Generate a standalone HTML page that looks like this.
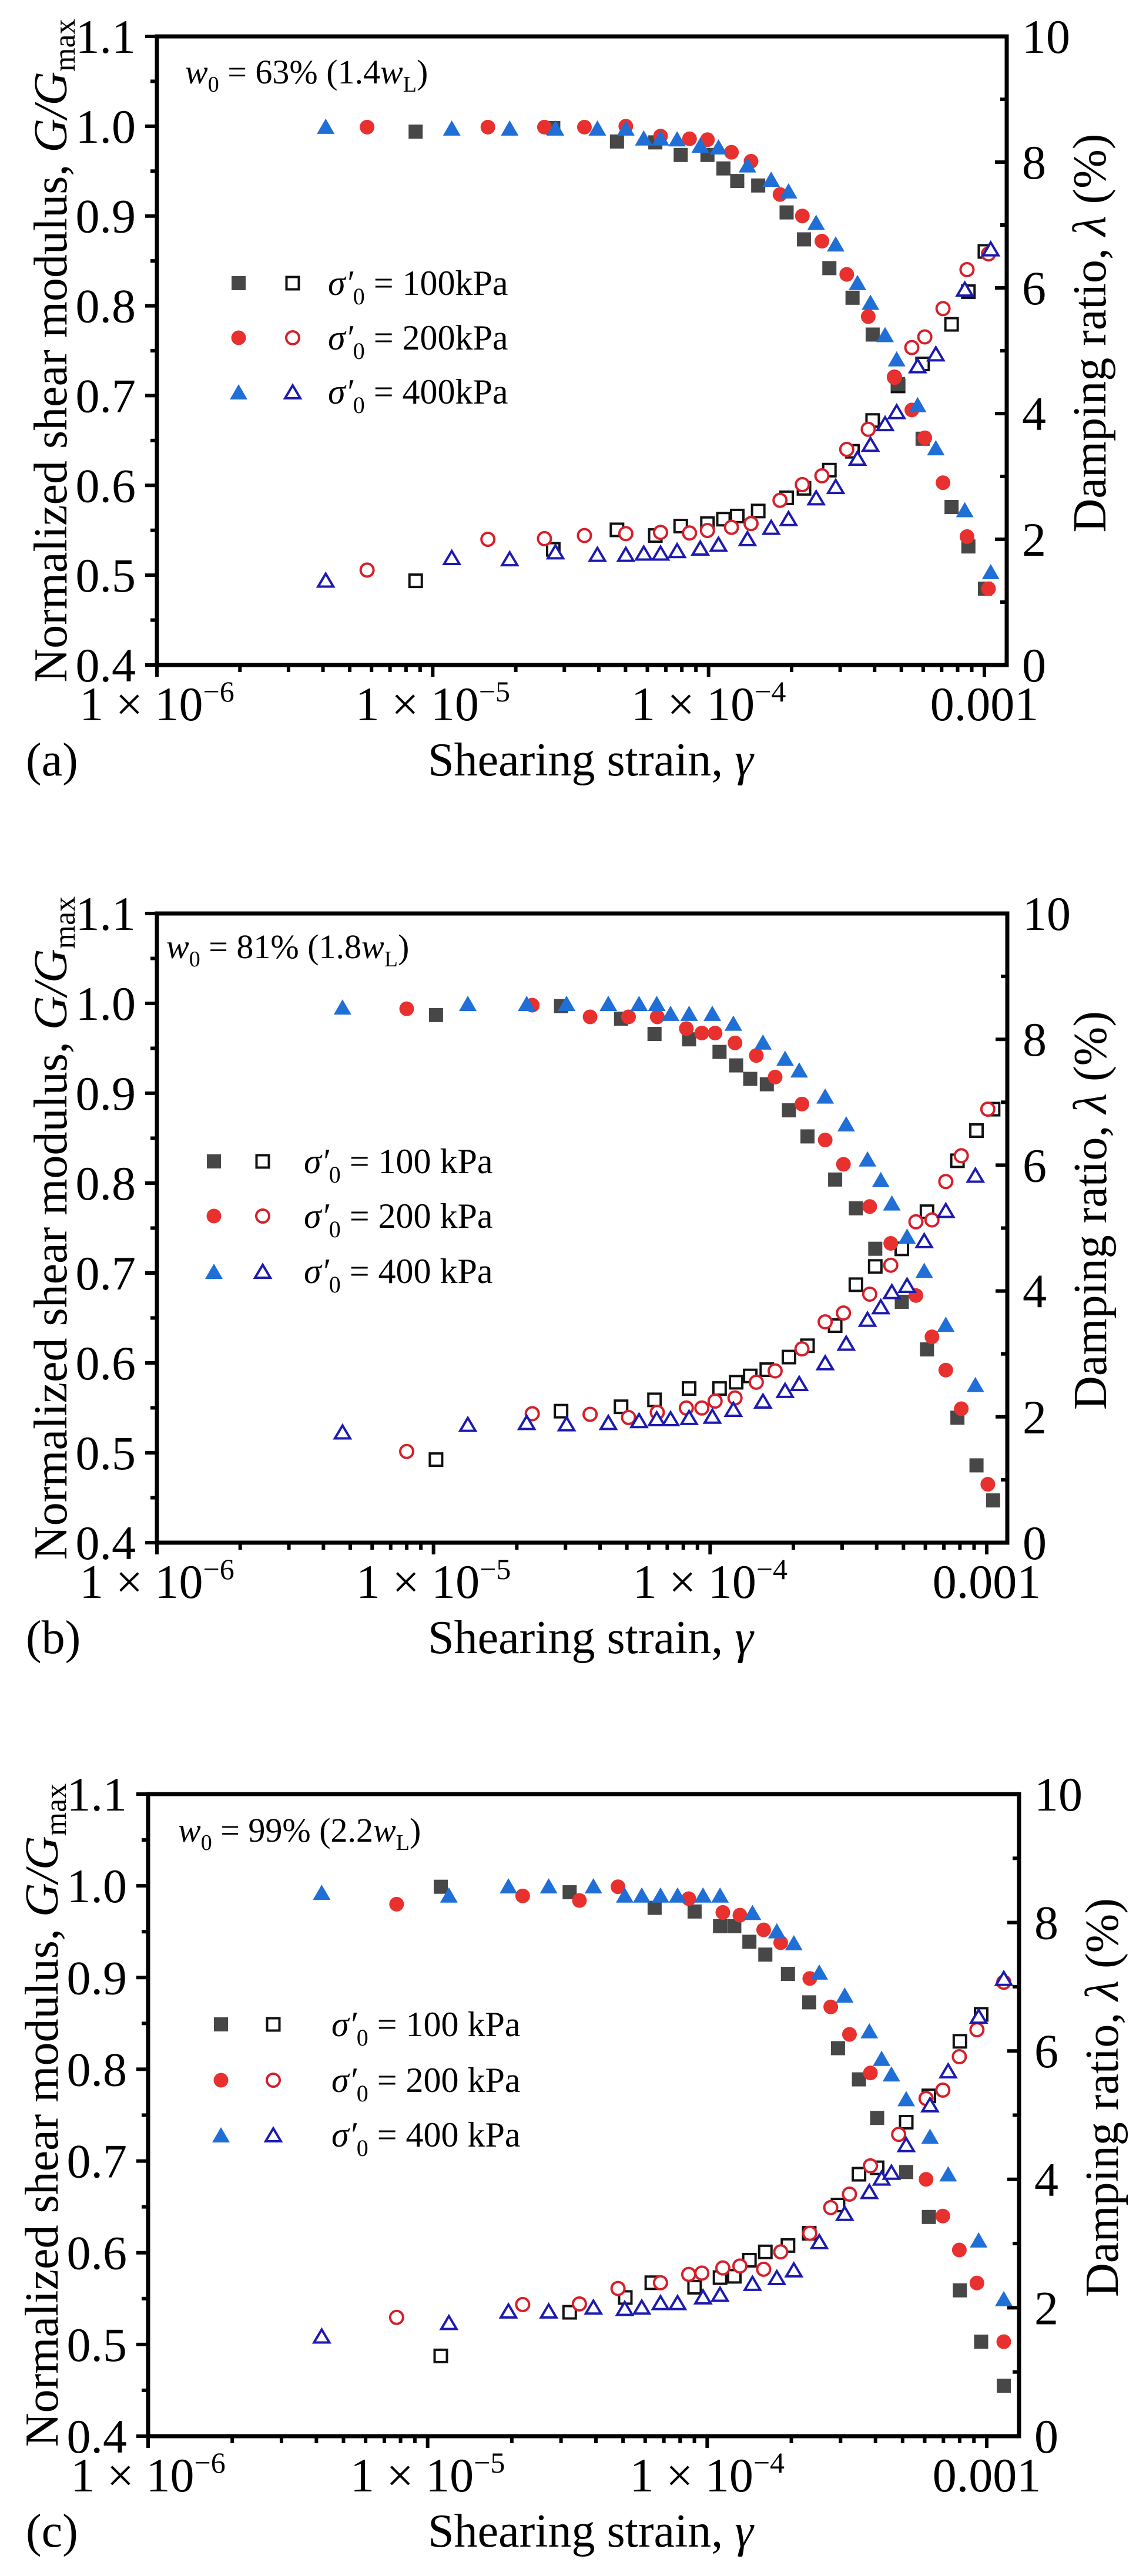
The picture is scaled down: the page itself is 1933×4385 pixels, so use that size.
<!DOCTYPE html>
<html><head><meta charset="utf-8"><title>G/Gmax and damping ratio vs shearing strain</title>
<style>
html,body{margin:0;padding:0;background:#fff;}
svg{display:block;font-family:"Liberation Serif","DejaVu Serif",serif;}
</style></head>
<body>
<svg id="fig" width="1933" height="4385" viewBox="0 0 1933 4385" xmlns="http://www.w3.org/2000/svg"></svg>
<script>
// ---- data (log10 of shearing strain, G/Gmax, damping ratio %) ----
// Panel (a)
const a100_x = [-5.062,-4.563,-4.332,-4.193,-4.101,-4.004,-3.946,-3.896,-3.820,-3.717,-3.654,-3.562,-3.478,-3.405,-3.313,-3.224,-3.119,-3.058,-2.998];
const a100_G = [0.994,0.998,0.983,0.982,0.968,0.968,0.953,0.939,0.934,0.904,0.874,0.842,0.809,0.768,0.713,0.652,0.576,0.532,0.485];
const a100_D = [1.34,1.84,2.15,2.06,2.21,2.25,2.32,2.37,2.45,2.66,2.81,3.10,3.40,3.89,4.44,4.79,5.42,5.94,6.58];
const a200_x = [-5.238,-4.800,-4.595,-4.450,-4.300,-4.174,-4.069,-4.004,-3.917,-3.846,-3.741,-3.660,-3.589,-3.499,-3.421,-3.326,-3.263,-3.216,-3.150,-3.063,-2.985];
const a200_G = [0.999,0.999,0.999,0.999,1.0,0.989,0.986,0.985,0.971,0.961,0.924,0.900,0.872,0.835,0.788,0.720,0.684,0.653,0.603,0.543,0.485];
const a200_D = [1.51,2.00,2.01,2.06,2.09,2.11,2.10,2.14,2.19,2.25,2.62,2.87,3.01,3.43,3.75,4.58,5.05,5.22,5.67,6.29,6.54];
const a400_x = [-5.388,-4.931,-4.721,-4.555,-4.403,-4.300,-4.235,-4.174,-4.114,-4.030,-3.964,-3.859,-3.773,-3.710,-3.610,-3.539,-3.460,-3.413,-3.360,-3.318,-3.242,-3.176,-3.071,-2.977];
const a400_G = [1.0,0.998,0.998,0.998,0.998,0.998,0.987,0.987,0.986,0.979,0.977,0.957,0.941,0.928,0.893,0.869,0.826,0.804,0.768,0.741,0.690,0.642,0.573,0.504];
const a400_D = [1.35,1.71,1.69,1.80,1.76,1.76,1.78,1.78,1.82,1.86,1.92,2.01,2.19,2.33,2.66,2.84,3.29,3.51,3.84,4.03,4.76,4.95,5.98,6.62];
// Panel (b)
const b100_x = [-4.991,-4.539,-4.322,-4.201,-4.076,-3.966,-3.906,-3.855,-3.795,-3.715,-3.648,-3.548,-3.473,-3.403,-3.307,-3.216,-3.106,-3.037,-2.977];
const b100_G = [0.987,0.997,0.983,0.966,0.960,0.946,0.931,0.916,0.910,0.881,0.852,0.804,0.772,0.727,0.668,0.615,0.539,0.486,0.447];
const b100_D = [1.32,2.09,2.16,2.27,2.45,2.45,2.55,2.65,2.75,2.95,3.13,3.45,4.10,4.39,4.67,5.26,6.07,6.55,6.89];
const b200_x = [-5.097,-4.643,-4.434,-4.295,-4.191,-4.086,-4.030,-3.982,-3.910,-3.833,-3.765,-3.668,-3.584,-3.518,-3.423,-3.347,-3.256,-3.198,-3.148,-3.092,-2.996];
const b200_G = [0.994,0.998,0.985,0.985,0.985,0.972,0.967,0.967,0.956,0.942,0.918,0.888,0.848,0.821,0.774,0.733,0.675,0.629,0.592,0.549,0.465];
const b200_D = [1.45,2.05,2.04,1.99,2.07,2.14,2.14,2.25,2.30,2.55,2.73,3.08,3.51,3.65,3.95,4.41,5.10,5.13,5.74,6.15,6.89];
const b400_x = [-5.329,-4.876,-4.663,-4.519,-4.368,-4.257,-4.193,-4.143,-4.076,-3.992,-3.916,-3.809,-3.729,-3.678,-3.584,-3.508,-3.431,-3.383,-3.343,-3.288,-3.226,-3.148,-3.041];
const b400_G = [0.996,1.0,1.0,1.0,1.0,1.0,1.0,0.989,0.989,0.989,0.978,0.957,0.939,0.926,0.897,0.866,0.827,0.804,0.778,0.741,0.703,0.643,0.576];
const b400_D = [1.76,1.88,1.91,1.89,1.91,1.94,1.97,1.97,1.99,2.01,2.12,2.25,2.42,2.53,2.86,3.17,3.55,3.75,3.99,4.09,4.80,5.28,5.84];
// Panel (c)
const c100_xG = [-4.953,-4.492,-4.188,-4.045,-3.954,-3.903,-3.849,-3.792,-3.711,-3.635,-3.532,-3.457,-3.392,-3.288,-3.207,-3.096,-3.020,-2.939];
const c100_G = [0.999,0.993,0.976,0.972,0.956,0.956,0.939,0.925,0.904,0.873,0.823,0.789,0.747,0.688,0.639,0.559,0.503,0.455];
const c100_xD = [-4.953,-4.492,-4.293,-4.198,-4.045,-3.954,-3.903,-3.849,-3.792,-3.711,-3.635,-3.532,-3.457,-3.392,-3.288,-3.207,-3.096,-3.020];
const c100_D = [1.25,1.93,2.16,2.39,2.32,2.47,2.49,2.74,2.87,2.97,3.16,3.60,4.08,4.18,4.89,5.30,6.15,6.57];
const c200_xG = [-5.111,-4.660,-4.457,-4.319,-4.066,-3.944,-3.883,-3.798,-3.737,-3.633,-3.558,-3.491,-3.416,-3.217,-3.157,-3.098,-3.035,-2.939];
const c200_G = [0.980,0.989,0.984,0.999,0.986,0.971,0.968,0.952,0.938,0.899,0.868,0.838,0.796,0.680,0.640,0.603,0.567,0.503];
const c200_xD = [-5.111,-4.660,-4.457,-4.319,-4.167,-4.066,-4.019,-3.944,-3.883,-3.798,-3.737,-3.633,-3.558,-3.491,-3.416,-3.315,-3.217,-3.157,-3.098,-3.035,-2.939];
const c200_D = [1.85,2.05,2.06,2.30,2.39,2.52,2.54,2.62,2.65,2.60,2.87,3.16,3.56,3.77,4.21,4.70,5.26,5.39,5.91,6.33,7.07];
const c400_x = [-5.379,-4.924,-4.711,-4.567,-4.407,-4.295,-4.234,-4.167,-4.106,-4.015,-3.954,-3.838,-3.751,-3.690,-3.599,-3.508,-3.420,-3.376,-3.341,-3.288,-3.203,-3.138,-3.029,-2.939];
const c400_G = [0.993,0.990,1.0,1.0,1.0,0.990,0.990,0.990,0.990,0.990,0.990,0.971,0.951,0.938,0.906,0.881,0.842,0.812,0.795,0.768,0.727,0.686,0.614,0.550];
const c400_D = [1.56,1.77,1.95,1.95,2.01,1.99,2.01,2.08,2.08,2.17,2.21,2.38,2.47,2.59,3.03,3.47,3.81,4.02,4.11,4.54,5.16,5.69,6.54,7.13];

// tick labels
const leftTicks = [0.4,0.5,0.6,0.7,0.8,0.9,1.0,1.1];
const leftTickLabels = ["0.4","0.5","0.6","0.7","0.8","0.9","1.0","1.1"];
const rightTicks = [0,2,4,6,8,10];
const xDecades = [-6,-5,-4,-3];
const xDecadeLabels = [["1 × 10","−6"],["1 × 10","−5"],["1 × 10","−4"],["0.001",""]];
const legendLabelsA = ["100kPa","200kPa","400kPa"];
const legendLabelsBC = ["100 kPa","200 kPa","400 kPa"];

// ---- drawing ----
const NS = "http://www.w3.org/2000/svg";
const svg = document.getElementById("fig");
function mk(tag, attrs, parent){
  const e = document.createElementNS(NS, tag);
  for (const k in attrs) e.setAttribute(k, attrs[k]);
  (parent||svg).appendChild(e);
  return e;
}
const COL = {sqF:"#474747", sqO:"#111111", ciF:"#e8312f", ciO:"#d61f2a", trF:"#1f6fd6", trO:"#1c1ab0"};

function marker(g, type, filled, cx, cy, name){
  let e;
  if (type === "sq"){
    const s = filled ? 24 : 21;
    e = mk("rect", {x:cx-s/2, y:cy-s/2, width:s, height:s, fill: filled?COL.sqF:"#fff", stroke: filled?"none":COL.sqO, "stroke-width":4}, g);
  } else if (type === "ci"){
    e = mk("circle", {cx:cx, cy:cy, r: filled?12.5:11, fill: filled?COL.ciF:"#fff", stroke: filled?"none":COL.ciO, "stroke-width":4}, g);
  } else {
    const w = filled?30:26, h = filled?26:22;
    e = mk("polygon", {points:`${cx-w/2},${cy+h/2} ${cx+w/2},${cy+h/2} ${cx},${cy-h/2}`, fill: filled?COL.trF:"#fff", stroke: filled?"none":COL.trO, "stroke-width":4, "stroke-linejoin":"miter"}, g);
  }
  
  
  return e;
}

function panel(cfg){
  const {id,L,R,T,B,x6,x3,label,ann,annX,annY,leg,legLabels,series} = cfg;
  const g = mk("g", {});
  
  
  const dec = (x3 - x6) / 3;
  const sx = v => x6 + (v + 6) * dec;
  const syG = v => B - (v - 0.4) / 0.7 * (B - T);
  const syD = v => B - v / 10 * (B - T);

  // ticks
  const tk = mk("g", {stroke:"#000", "stroke-width":6}, g);
  
  
  for (let i = 0; i < leftTicks.length; i++){
    const y = syG(leftTicks[i]);
    mk("line", {x1:L-20, x2:L, y1:y, y2:y}, tk);
    if (i < leftTicks.length-1){ const ym = syG(leftTicks[i]+0.05); mk("line", {x1:L-11, x2:L, y1:ym, y2:ym}, tk); }
    const t = mk("text", {x:L-36, y:y+28, "font-size":82, "text-anchor":"end", fill:"#000"}, g);
    t.textContent = leftTickLabels[i];
    
    
  }
  for (let i = 0; i < rightTicks.length; i++){
    const y = syD(rightTicks[i]);
    mk("line", {x1:R-20, x2:R, y1:y, y2:y}, tk);
    if (i < rightTicks.length-1){ const ym = syD(rightTicks[i]+1); mk("line", {x1:R-11, x2:R, y1:ym, y2:ym}, tk); }
    const t = mk("text", {x:R+26, y:y+28, "font-size":82, fill:"#000"}, g);
    t.textContent = String(rightTicks[i]);
    
    
  }
  for (let d = 0; d < xDecades.length; d++){
    const x = sx(xDecades[d]);
    mk("line", {x1:x, x2:x, y1:B, y2:B+20}, tk);
    if (d < xDecades.length-1){
      for (let m = 2; m <= 9; m++){ const xm = sx(xDecades[d] + Math.log10(m)); mk("line", {x1:xm, x2:xm, y1:B, y2:B+12}, tk); }
    }
    const t = mk("text", {x:x, y:B+94, "font-size":82, "text-anchor":"middle", fill:"#000"}, g);
    
    
    const s1 = mk("tspan", {}, t); s1.textContent = xDecadeLabels[d][0];
    if (xDecadeLabels[d][1]){ const s2 = mk("tspan", {dy:-32, "font-size":50}, t); s2.textContent = xDecadeLabels[d][1]; }
  }
  // frame
  const fr = mk("rect", {x:L, y:T, width:R-L, height:B-T, fill:"none", stroke:"#000", "stroke-width":7}, g);
  
  

  // series
  for (const s of series){
    const sg = mk("g", {}, g);
    
    
    for (let i = 0; i < s.xD.length; i++) marker(sg, s.type, false, sx(s.xD[i]), syD(s.D[i]), 'damping-point');
    for (let i = 0; i < s.xG.length; i++) marker(sg, s.type, true, sx(s.xG[i]), syG(s.G[i]), 'modulus-point');
  }

  // legend
  const lg = mk("g", {}, g);
  
  
  const types = ["sq","ci","tr"];
  for (let i = 0; i < 3; i++){
    const y = T + leg.rows[i];
    marker(lg, types[i], true, L + leg.f, y, 'legend-filled-marker');
    marker(lg, types[i], false, L + leg.o, y, 'legend-open-marker');
    const t = mk("text", {x:L + leg.t, y:y+20, "font-size":60, fill:"#000"}, lg);
    
    
    const a1 = mk("tspan", {"font-style":"italic"}, t); a1.textContent = "σ′";
    const a2 = mk("tspan", {"font-size":40, dy:16}, t); a2.textContent = "0";
    const a3 = mk("tspan", {dy:-16}, t); a3.textContent = " = " + legLabels[i];
  }

  // annotation
  const an = mk("text", {x:annX, y:annY, "font-size":58, fill:"#000"}, g);
  
  
  const n1 = mk("tspan", {"font-style":"italic"}, an); n1.textContent = "w";
  const n2 = mk("tspan", {"font-size":38, dy:14}, an); n2.textContent = "0";
  const n3 = mk("tspan", {dy:-14}, an); n3.textContent = " = " + ann[0] + " (" + ann[1];
  const n4 = mk("tspan", {"font-style":"italic"}, an); n4.textContent = "w";
  const n5 = mk("tspan", {"font-size":38, dy:14}, an); n5.textContent = "L";
  const n6 = mk("tspan", {dy:-14}, an); n6.textContent = ")";

  // axis titles
  const cy = (T + B) / 2;
  const lt = mk("text", {x:0, y:0, "font-size":80, "text-anchor":"middle", fill:"#000", transform:`translate(${L-154},${cy}) rotate(-90)`}, g);
  
  
  const l1 = mk("tspan", {}, lt); l1.textContent = "Normalized shear modulus, ";
  const l2 = mk("tspan", {"font-style":"italic"}, lt); l2.textContent = "G/G";
  const l3 = mk("tspan", {"font-size":52, dy:14}, lt); l3.textContent = "max";
  const rt = mk("text", {x:0, y:0, "font-size":80, "text-anchor":"middle", fill:"#000", transform:`translate(${R+168},${cy-30}) rotate(-90)`}, g);
  
  
  const r1 = mk("tspan", {}, rt); r1.textContent = "Damping ratio, ";
  const r2 = mk("tspan", {"font-style":"italic"}, rt); r2.textContent = "λ";
  const r3 = mk("tspan", {}, rt); r3.textContent = " (%)";
  const xt = mk("text", {x:1005, y:B+188, "font-size":80, "text-anchor":"middle", fill:"#000"}, g);
  
  
  const x1 = mk("tspan", {}, xt); x1.textContent = "Shearing strain, ";
  const x2 = mk("tspan", {"font-style":"italic"}, xt); x2.textContent = "γ";
  const pl = mk("text", {x:44, y:B+188, "font-size":80, fill:"#000"}, g);
  pl.textContent = label;
  
  
}

panel({id:"a", L:267, R:1713, T:62, B:1132, x6:267, x3:1675, label:"(a)", ann:["63%","1.4"], annX:315, annY:142,
  leg:{f:139, o:231, t:291, rows:[420,513,605]}, legLabels:legendLabelsA,
  series:[{name:"100kpa", type:"sq", xG:a100_x, G:a100_G, xD:a100_x, D:a100_D},
          {name:"200kpa", type:"ci", xG:a200_x, G:a200_G, xD:a200_x, D:a200_D},
          {name:"400kpa", type:"tr", xG:a400_x, G:a400_G, xD:a400_x, D:a400_D}]});
panel({id:"b", L:267, R:1714, T:1555, B:2626, x6:267, x3:1679, label:"(b)", ann:["81%","1.8"], annX:283, annY:1631,
  leg:{f:97, o:180, t:250, rows:[422,515,609]}, legLabels:legendLabelsBC,
  series:[{name:"100kpa", type:"sq", xG:b100_x, G:b100_G, xD:b100_x, D:b100_D},
          {name:"200kpa", type:"ci", xG:b200_x, G:b200_G, xD:b200_x, D:b200_D},
          {name:"400kpa", type:"tr", xG:b400_x, G:b400_G, xD:b400_x, D:b400_D}]});
panel({id:"c", L:252, R:1734, T:3054, B:4147, x6:252, x3:1679, label:"(c)", ann:["99%","2.2"], annX:303, annY:3135,
  leg:{f:124, o:213, t:312, rows:[392,487,580]}, legLabels:legendLabelsBC,
  series:[{name:"100kpa", type:"sq", xG:c100_xG, G:c100_G, xD:c100_xD, D:c100_D},
          {name:"200kpa", type:"ci", xG:c200_xG, G:c200_G, xD:c200_xD, D:c200_D},
          {name:"400kpa", type:"tr", xG:c400_x, G:c400_G, xD:c400_x, D:c400_D}]});
</script>
</body></html>
